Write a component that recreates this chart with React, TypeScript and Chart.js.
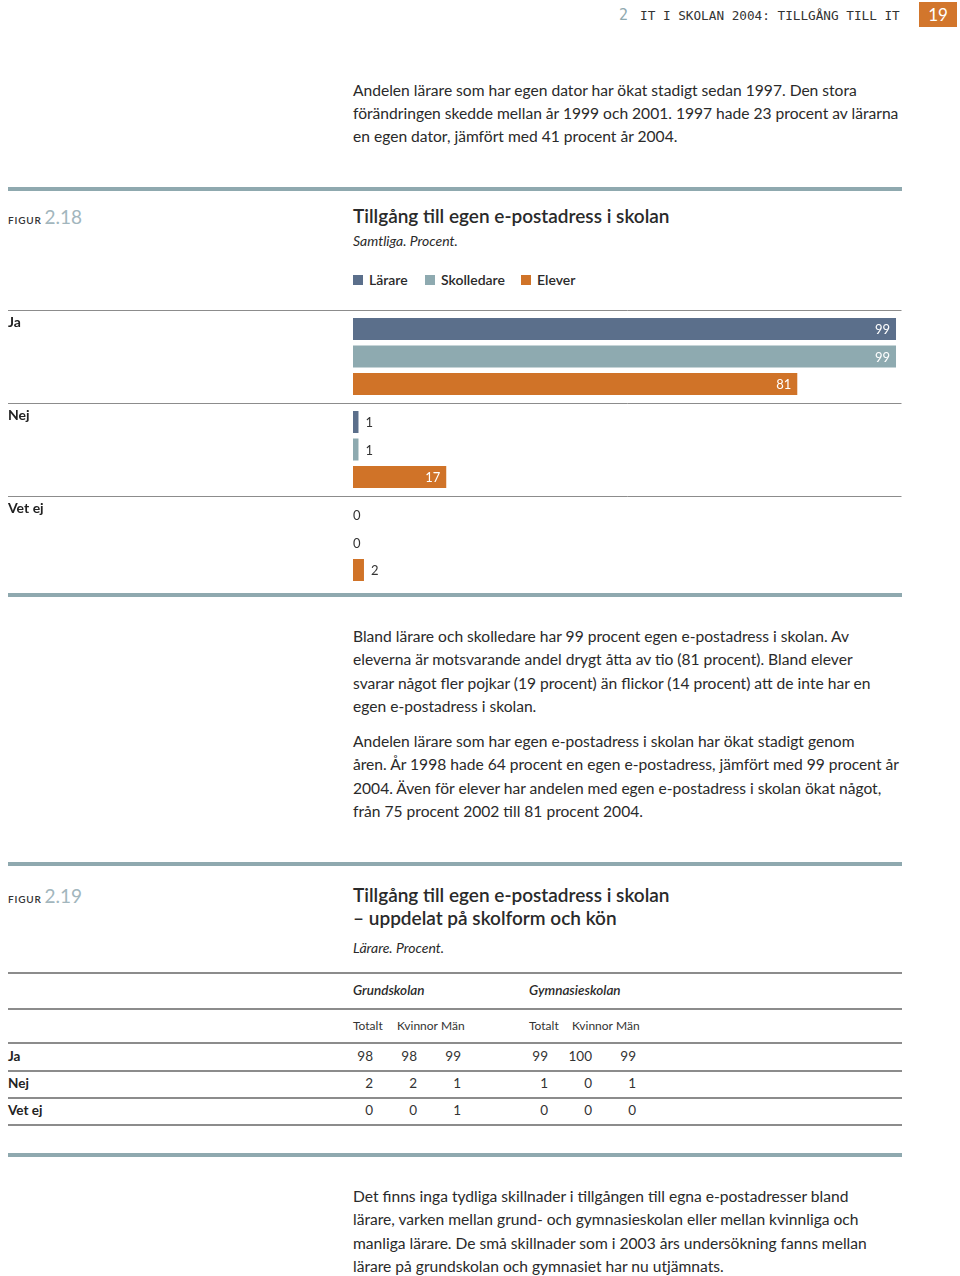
import React, { useEffect, useRef } from 'react';
import { Chart, registerables } from 'chart.js';

Chart.register(...registerables);

// ---- Figure 2.18 data ----
const categories = ['Ja', 'Nej', 'Vet ej'];
const seriesLabels = ['Lärare', 'Skolledare', 'Elever'];
const larareValues = [99, 1, 0];
const skolledareValues = [99, 1, 0];
const eleverValues = [81, 17, 2];
const seriesColors = ['#5b6f8b', '#8eaab0', '#d07328'];

// ---- Figure 2.19 table data ----
const tableRows = ['Ja', 'Nej', 'Vet ej'];
const tableGroups = ['Grundskolan', 'Gymnasieskolan'];
const tableCols = ['Totalt', 'Kvinnor', 'Män'];
const grundskolanValues = [
  [98, 98, 99],
  [2, 2, 1],
  [0, 0, 1],
];
const gymnasieskolanValues = [
  [99, 100, 99],
  [1, 0, 1],
  [0, 0, 0],
];

const FONT = 'Lato, "Noto Sans", sans-serif';
const TEXT = '#2a2a2a';
const RULE = '#8fa9af';
const THIN = '#8c8c8c';

const valueLabelPlugin = {
  id: 'valueLabels',
  afterDatasetsDraw(chart: any) {
    const ctx = chart.ctx;
    ctx.save();
    ctx.font = `13px ${FONT}`;
    ctx.textBaseline = 'middle';
    chart.data.datasets.forEach((ds: any, di: number) => {
      const meta = chart.getDatasetMeta(di);
      meta.data.forEach((bar: any, i: number) => {
        const v = ds.data[i];
        const p = bar.getProps(['x', 'y', 'base'], true);
        if (v >= 10) {
          ctx.fillStyle = '#ffffff';
          ctx.textAlign = 'right';
          ctx.fillText(String(v), p.x - 6, p.y + 1);
        } else {
          ctx.fillStyle = '#333333';
          ctx.textAlign = 'left';
          ctx.fillText(String(v), v === 0 ? p.base : p.x + 7, p.y + 1);
        }
      });
    });
    ctx.restore();
  },
};

function BarChart() {
  const ref = useRef<HTMLCanvasElement>(null);
  useEffect(() => {
    if (!ref.current) return;
    const seriesData = [larareValues, skolledareValues, eleverValues];
    const chart = new Chart(ref.current, {
      type: 'bar',
      data: {
        labels: categories,
        datasets: seriesLabels.map((label, i) => ({
          label,
          data: seriesData[i],
          backgroundColor: seriesColors[i],
          borderWidth: 0,
          categoryPercentage: 0.887,
          barPercentage: 0.8,
        })),
      },
      options: {
        indexAxis: 'y',
        responsive: false,
        animation: false,
        layout: { padding: { left: 8, right: 58.5, top: 10, bottom: 11 } },
        plugins: { legend: { display: false }, tooltip: { enabled: false } },
        scales: {
          x: { display: false, min: 0, max: 100 },
          y: {
            position: 'left',
            afterFit: (s: any) => {
              s.width = 345;
            },
            border: { display: false },
            grid: {
              offset: true,
              color: (c: any) =>
                c.type !== 'tick' || c.index === undefined || c.index >= categories.length
                  ? 'rgba(0,0,0,0)'
                  : THIN,
              lineWidth: 1,
              drawTicks: true,
              tickLength: 345,
            },
            ticks: {
              crossAlign: 'far',
              padding: 0,
              labelOffset: -34.5,
              color: '#222',
              font: { family: FONT, size: 14, weight: 'bold' },
            },
          },
        },
      } as any,
      plugins: [valueLabelPlugin],
    });
    return () => chart.destroy();
  }, []);
  return (
    <canvas
      ref={ref}
      width={960}
      height={300}
      style={{ position: 'absolute', left: 0, top: 300, width: 960, height: 300, display: 'block' }}
    />
  );
}

function T(props: { x: number; y: number; size?: number; weight?: number | string; italic?: boolean; color?: string; font?: string; align?: 'left' | 'right'; children: React.ReactNode; style?: React.CSSProperties }) {
  const size = props.size ?? 16;
  const lh = size * 1.4;
  const base: React.CSSProperties = {
    position: 'absolute',
    top: props.y - lh / 2,
    fontSize: size,
    lineHeight: `${lh}px`,
    fontFamily: props.font ?? FONT,
    fontWeight: (props.weight ?? 400) as any,
    fontStyle: props.italic ? 'italic' : 'normal',
    color: props.color ?? TEXT,
    whiteSpace: 'nowrap',
  };
  if (props.align === 'right') base.right = 960 - props.x;
  else base.left = props.x;
  return <div style={{ ...base, ...props.style }}>{props.children}</div>;
}

function Para({ x, y, lines, step = 23.3 }: { x: number; y: number; lines: string[]; step?: number }) {
  return (
    <>
      {lines.map((l, i) => (
        <T key={i} x={x} y={y + i * step} size={15.6}>
          {l}
        </T>
      ))}
    </>
  );
}

function Rule({ y, h = 4, color = RULE }: { y: number; h?: number; color?: string }) {
  return <div style={{ position: 'absolute', left: 8, width: 894, top: y, height: h, background: color }} />;
}

function Figur({ y, num }: { y: number; num: string }) {
  return (
    <div style={{ position: 'absolute', left: 8, top: y - 12, height: 24, display: 'flex', alignItems: 'baseline', fontFamily: FONT, whiteSpace: 'nowrap' }}>
      <span style={{ fontSize: 10, letterSpacing: 0.8, color: '#333', fontWeight: 600 }}>FIGUR</span>
      <span style={{ fontSize: 19, color: '#a2b6bd', marginLeft: 3 }}>{num}</span>
    </div>
  );
}

export default function App() {
  const colRight = [373, 417, 461, 548, 592, 636];
  const colLeft = [353, 397, 441, 529, 572, 616];
  const rowY = [1056, 1083, 1110];
  return (
    <div style={{ position: 'absolute', left: 0, top: 0, width: 960, height: 1276, background: '#fff', overflow: 'hidden' }}>
      {/* header */}
      <T x={619} y={15} size={15} font='"DejaVu Sans Mono", monospace' color={RULE}>2</T>
      <T x={640} y={16} size={12.7} font='"DejaVu Sans Mono", monospace' color="#333">IT I SKOLAN 2004: TILLGÅNG TILL IT</T>
      <div style={{ position: 'absolute', left: 919, top: 2, width: 38, height: 25, background: '#d2762c', color: '#fff', fontFamily: FONT, fontSize: 17, lineHeight: '25px', textAlign: 'center' }}>19</div>

      <Para
        x={353}
        y={91}
        step={23}
        lines={[
          'Andelen lärare som har egen dator har ökat stadigt sedan 1997. Den stora',
          'förändringen skedde mellan år 1999 och 2001. 1997 hade 23 procent av lärarna',
          'en egen dator, jämfört med 41 procent år 2004.',
        ]}
      />

      <Rule y={187} />
      <Figur y={217} num="2.18" />
      <T x={353} y={216} size={19} weight={600}>Tillgång till egen e-postadress i skolan</T>
      <T x={353} y={241} size={14} italic>Samtliga. Procent.</T>

      {/* legend */}
      {seriesLabels.map((l, i) => (
        <React.Fragment key={l}>
          <div style={{ position: 'absolute', left: [353, 425, 521][i], top: 275, width: 10, height: 10, background: seriesColors[i] }} />
          <T x={[369, 441, 537][i]} y={280} size={14} weight={600}>{l}</T>
        </React.Fragment>
      ))}

      <BarChart />
      <Rule y={593} />

      <Para
        x={353}
        y={637}
        lines={[
          'Bland lärare och skolledare har 99 procent egen e-postadress i skolan. Av',
          'eleverna är motsvarande andel drygt åtta av tio (81 procent). Bland elever',
          'svarar något fler pojkar (19 procent) än flickor (14 procent) att de inte har en',
          'egen e-postadress i skolan.',
        ]}
      />
      <Para
        x={353}
        y={742}
        lines={[
          'Andelen lärare som har egen e-postadress i skolan har ökat stadigt genom',
          'åren. År 1998 hade 64 procent en egen e-postadress, jämfört med 99 procent år',
          '2004. Även för elever har andelen med egen e-postadress i skolan ökat något,',
          'från 75 procent 2002 till 81 procent 2004.',
        ]}
      />

      <Rule y={862} />
      <Figur y={896} num="2.19" />
      <T x={353} y={895} size={19} weight={600}>Tillgång till egen e-postadress i skolan</T>
      <T x={353} y={918} size={19} weight={600}>– uppdelat på skolform och kön</T>
      <T x={353} y={948} size={14} italic>Lärare. Procent.</T>

      {/* table */}
      {[972, 1008, 1042, 1070, 1097, 1124].map((y) => (
        <Rule key={y} y={y} h={1.5} color={THIN} />
      ))}
      <T x={353} y={990} size={13.5} weight={600} italic>{tableGroups[0]}</T>
      <T x={529} y={990} size={13.5} weight={600} italic>{tableGroups[1]}</T>
      {[...tableCols, ...tableCols].map((c, i) => (
        <T key={i} x={colLeft[i]} y={1026} size={12} color="#333">{c}</T>
      ))}
      {tableRows.map((r, ri) => (
        <React.Fragment key={r}>
          <T x={8} y={rowY[ri]} size={13.5} weight={700} color="#222">{r}</T>
          {[...grundskolanValues[ri], ...gymnasieskolanValues[ri]].map((v, ci) => (
            <T key={ci} x={colRight[ci]} y={rowY[ri]} size={13.5} align="right" color="#333">{v}</T>
          ))}
        </React.Fragment>
      ))}
      <Rule y={1153} />

      <Para
        x={353}
        y={1197}
        lines={[
          'Det finns inga tydliga skillnader i tillgången till egna e-postadresser bland',
          'lärare, varken mellan grund- och gymnasieskolan eller mellan kvinnliga och',
          'manliga lärare. De små skillnader som i 2003 års undersökning fanns mellan',
          'lärare på grundskolan och gymnasiet har nu utjämnats.',
        ]}
      />
    </div>
  );
}
